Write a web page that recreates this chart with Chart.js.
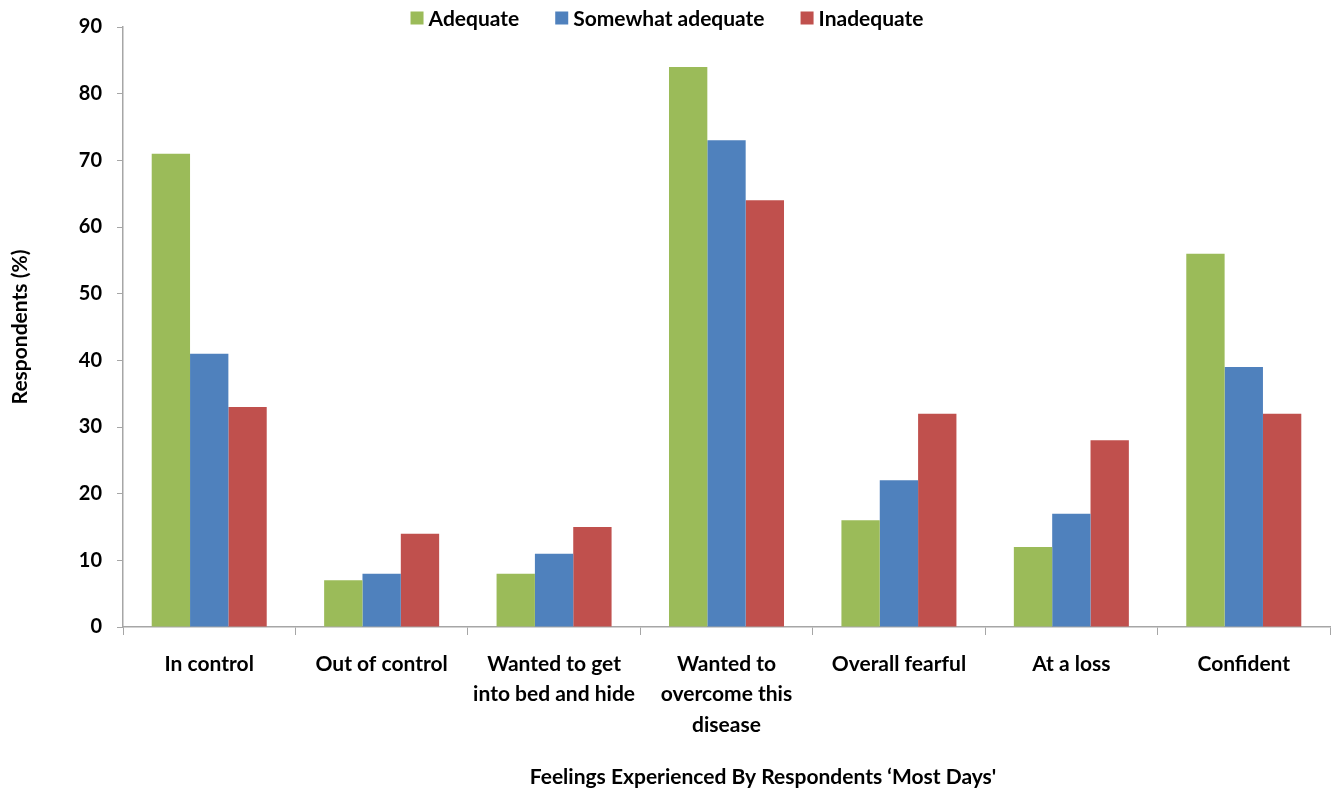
<!DOCTYPE html>
<html>
<head>
<meta charset="utf-8">
<script src="https://cdn.jsdelivr.net/npm/chart.js@4.4.1/dist/chart.umd.min.js"></script>
<style>
  html, body { margin: 0; padding: 0; background: #fff; }
  #wrap { width: 1334px; height: 791px; }
</style>
</head>
<body>
<div id="wrap"><canvas id="feelingsChart" width="1334" height="791"></canvas></div>
<script>
const categories = [
    "In control",
    "Out of control",
    ["Wanted to get", "into bed and hide"],
    ["Wanted to", "overcome this", "disease"],
    "Overall fearful",
    "At a loss",
    "Confident"
];
const seriesNames = ["Adequate", "Somewhat adequate", "Inadequate"];
const adequate = [71, 7, 8, 84, 16, 12, 56];
const somewhatAdequate = [41, 8, 11, 73, 22, 17, 39];
const inadequate = [33, 14, 15, 64, 32, 28, 32];
const yMin = 0;
const yMax = 90;
const yStep = 10;
const yTitle = "Respondents (%)";
const xTitle = "Feelings Experienced By Respondents \u2018Most Days'";

const FONT = "Lato, 'Open Sans', sans-serif";
const AXIS_GREY = "#a6a6a6";

// legend drawn by hand so spacing matches the original
const topLegend = {
    id: "topLegend",
    afterDraw(chart) {
        const ctx = chart.ctx;
        ctx.save();
        ctx.font = "bold 21px " + FONT;
        ctx.textBaseline = "middle";
        const box = 13, gap = 5, itemGap = 36;
        const items = chart.data.datasets.map(ds => ({
            label: ds.label,
            color: ds.backgroundColor,
            w: box + gap + ctx.measureText(ds.label).width
        }));
        const total = items.reduce((s, it) => s + it.w, 0) + itemGap * (items.length - 1);
        let x = chart.width / 2 - total / 2;
        const y = 18;
        items.forEach(it => {
            ctx.fillStyle = it.color;
            ctx.fillRect(x, y - box / 2, box, box);
            ctx.fillStyle = "#000";
            ctx.fillText(it.label, x + box + gap, y + 1);
            x += it.w + itemGap;
        });
        ctx.restore();
    }
};

// x title sits right of the plot centre in the original
const bottomTitle = {
    id: "bottomTitle",
    afterDraw(chart) {
        const ctx = chart.ctx;
        ctx.save();
        ctx.font = "bold 21px " + FONT;
        ctx.fillStyle = "#000";
        ctx.textAlign = "center";
        ctx.textBaseline = "middle";
        ctx.fillText(xTitle, 763, 777);
        ctx.restore();
    }
};

new Chart(document.getElementById("feelingsChart"), {
    type: "bar",
    data: {
        labels: categories,
        datasets: [
            { label: seriesNames[0], data: adequate, backgroundColor: "#9bbb59" },
            { label: seriesNames[1], data: somewhatAdequate, backgroundColor: "#4f81bd" },
            { label: seriesNames[2], data: inadequate, backgroundColor: "#c0504d" }
        ]
    },
    options: {
        responsive: false,
        animation: false,
        layout: { padding: { top: 27, right: 4, bottom: 0, left: 0 } },
        datasets: {
            bar: { categoryPercentage: 0.667, barPercentage: 1.0 }
        },
        plugins: {
            legend: { display: false },
            tooltip: { enabled: false }
        },
        scales: {
            x: {
                grid: {
                    display: true,
                    drawOnChartArea: false,
                    drawTicks: true,
                    tickLength: 8,
                    color: AXIS_GREY,
                    offset: true
                },
                border: { color: AXIS_GREY, width: 1.5 },
                ticks: {
                    color: "#000",
                    padding: 14,
                    maxRotation: 0,
                    autoSkip: false,
                    font: { family: FONT, size: 21, weight: "bold", lineHeight: 1.45 }
                },
                afterFit(scale) { scale.height = 164; }
            },
            y: {
                min: yMin,
                max: yMax,
                ticks: {
                    stepSize: yStep,
                    color: "#000",
                    padding: 15,
                    font: { family: FONT, size: 20, weight: "bold" }
                },
                grid: {
                    drawOnChartArea: false,
                    drawTicks: true,
                    tickLength: 6,
                    color: AXIS_GREY
                },
                border: { color: AXIS_GREY, width: 1.5 },
                title: {
                    display: true,
                    text: yTitle,
                    color: "#000",
                    padding: { top: 8, bottom: 0 },
                    font: { family: FONT, size: 21, weight: "bold" }
                },
                afterFit(scale) { scale.width = 123; }
            }
        }
    },
    plugins: [topLegend, bottomTitle]
});
</script>
</body>
</html>
